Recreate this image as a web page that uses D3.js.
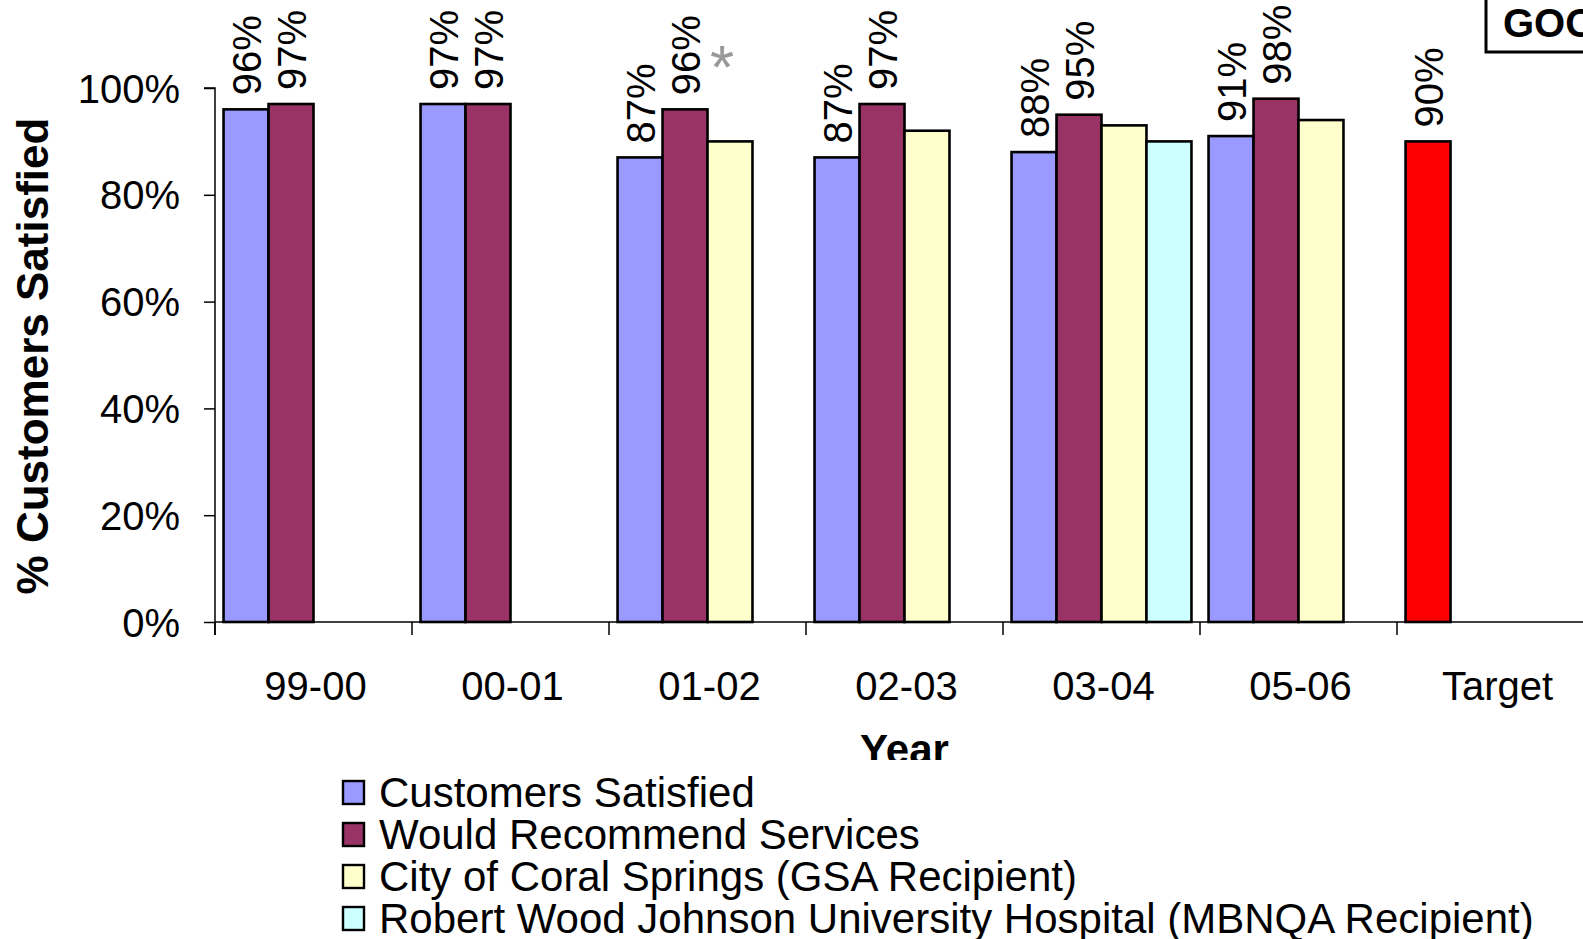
<!DOCTYPE html>
<html>
<head>
<meta charset="utf-8">
<script src="https://cdn.jsdelivr.net/npm/d3@7"></script>
<style>
  html, body { margin: 0; padding: 0; background: #fff; overflow: hidden; }
  svg { display: block; font-family: Arial, "Liberation Sans", sans-serif; }
</style>
</head>
<body>
<svg id="chart" width="1583" height="939"></svg>
<script>
// Survey years plus the target column
const categories = ["99-00", "00-01", "01-02", "02-03", "03-04", "05-06", "Target"];

// Series values (fraction of customers); null = no bar
const customersSatisfied = [0.96, 0.97, 0.87, 0.87, 0.88, 0.91, null];
const wouldRecommend     = [0.97, 0.97, 0.96, 0.97, 0.95, 0.98, null];
const coralSprings       = [null, null, 0.90, 0.92, 0.93, 0.94, null];
const robertWoodJohnson  = [null, null, null, null, 0.90, null, null];
const targetValue        = [null, null, null, null, null, null, 0.90];

const yTicks = [0, 0.2, 0.4, 0.6, 0.8, 1.0];

const legendLabels = [
  "Customers Satisfied",
  "Would Recommend Services",
  "City of Coral Springs (GSA Recipient)",
  "Robert Wood Johnson University Hospital (MBNQA Recipient)"
];

const series = [
  { values: customersSatisfied, slot: 0, color: "#9999FF", labeled: true },
  { values: wouldRecommend,     slot: 1, color: "#993366", labeled: true },
  { values: coralSprings,       slot: 2, color: "#FFFFCC", labeled: false },
  { values: robertWoodJohnson,  slot: 3, color: "#CCFFFF", labeled: false },
  { values: targetValue,        slot: 0, color: "#FF0000", labeled: true }
];

const svg = d3.select("#chart");
const W = 1583, H = 939;

const plot = { left: 215, top: 88, bottom: 622, catW: 197 };
const x = d3.scaleBand()
  .domain(categories)
  .range([plot.left, plot.left + plot.catW * categories.length])
  .paddingInner(0).paddingOuter(0);
const slot = d3.scaleBand()
  .domain([0, 1, 2, 3])
  .range([0, x.bandwidth()])
  .paddingInner(0).paddingOuter(0.19);
const y = d3.scaleLinear().domain([0, 1]).range([plot.bottom, plot.top]);

const fmt = d3.format(".0%");

// Bars
const bars = [];
series.forEach(s => s.values.forEach((v, i) => {
  if (v != null) bars.push({ cat: categories[i], v, slot: s.slot, color: s.color, labeled: s.labeled });
}));

svg.append("g").selectAll("rect").data(bars).join("rect")
  .attr("x", d => x(d.cat) + slot(d.slot))
  .attr("y", d => y(d.v))
  .attr("width", slot.bandwidth())
  .attr("height", d => y(0) - y(d.v))
  .attr("fill", d => d.color)
  .attr("stroke", "#000")
  .attr("stroke-width", 2.6);

// Rotated value labels above the bars
svg.append("g").selectAll("text").data(bars.filter(d => d.labeled)).join("text")
  .attr("transform", d => `translate(${x(d.cat) + slot(d.slot) + slot.bandwidth() / 2 + 1},${y(d.v) - 14}) rotate(-90)`)
  .attr("dy", "0.36em")
  .attr("text-anchor", "start")
  .attr("font-size", 40)
  .attr("fill", "#000")
  .text(d => fmt(d.v));

// Asterisk note next to the 01-02 labels
svg.append("text")
  .attr("x", x("01-02") + slot(2) + slot.bandwidth() / 2 - 8)
  .attr("y", 88)
  .attr("text-anchor", "middle")
  .attr("font-size", 62)
  .attr("fill", "#999")
  .text("*");

// Y axis
const yAxis = d3.axisLeft(y).tickValues(yTicks).tickFormat(fmt).tickSize(11).tickPadding(24);
const gy = svg.append("g").attr("transform", `translate(${plot.left},0)`).call(yAxis);
gy.select(".domain").attr("stroke", "#000").attr("stroke-width", 1.5)
  .attr("d", `M-11,${plot.top}H0V${plot.bottom + 13}`);
gy.selectAll(".tick line").attr("stroke", "#000").attr("stroke-width", 1.5);
gy.selectAll(".tick text").attr("font-size", 40).attr("fill", "#000")
  .attr("font-family", "Arial, 'Liberation Sans', sans-serif").attr("dy", "0.35em");

// X axis
const xAxis = d3.axisBottom(x).tickSize(0).tickPadding(0);
const gx = svg.append("g").attr("transform", `translate(0,${plot.bottom})`).call(xAxis);
gx.select(".domain").attr("stroke", "#000").attr("stroke-width", 1.5)
  .attr("d", `M${plot.left},0H${W}`);
gx.selectAll(".tick text").attr("font-size", 40).attr("fill", "#000")
  .attr("font-family", "Arial, 'Liberation Sans', sans-serif")
  .attr("x", 2).attr("y", 78).attr("dy", 0);
// category separators
svg.append("g").selectAll("line").data(categories).join("line")
  .attr("x1", d => x(d)).attr("x2", d => x(d))
  .attr("y1", plot.bottom).attr("y2", plot.bottom + 13)
  .attr("stroke", "#000").attr("stroke-width", 1.5);

// Axis titles
svg.append("text")
  .attr("transform", `translate(32,${(plot.top + plot.bottom) / 2 + 1}) rotate(-90)`)
  .attr("text-anchor", "middle").attr("dy", "0.36em")
  .attr("font-size", 44).attr("font-weight", "bold")
  .text("% Customers Satisfied");

svg.append("text")
  .attr("x", (x.range()[0] + x.range()[1]) / 2)
  .attr("y", 764)
  .attr("text-anchor", "middle")
  .attr("font-size", 42).attr("font-weight", "bold")
  .text("Year");

// Legend (opaque box laid over the axis title)
const legend = svg.append("g");
legend.append("rect").attr("x", 335).attr("y", 760).attr("width", 1200).attr("height", 179).attr("fill", "#fff");
const rowY = d3.scaleLinear().domain([0, 3]).range([792, 918]);
const lg = legend.selectAll("g").data(legendLabels).join("g")
  .attr("transform", (d, i) => `translate(0,${rowY(i)})`);
lg.append("rect")
  .attr("x", 343).attr("y", -11).attr("width", 21).attr("height", 23)
  .attr("fill", (d, i) => series[i].color)
  .attr("stroke", "#000").attr("stroke-width", 2.4);
lg.append("text")
  .attr("x", 379).attr("y", 0).attr("dy", "0.36em")
  .attr("font-size", 42)
  .text(d => d);

// Corner rating box
svg.append("rect")
  .attr("x", 1486).attr("y", -10).attr("width", 130).attr("height", 62)
  .attr("fill", "#fff").attr("stroke", "#000").attr("stroke-width", 3);
svg.append("text")
  .attr("x", 1503).attr("y", 37)
  .attr("font-size", 40).attr("font-weight", "bold")
  .text("GOOD");
</script>
</body>
</html>
